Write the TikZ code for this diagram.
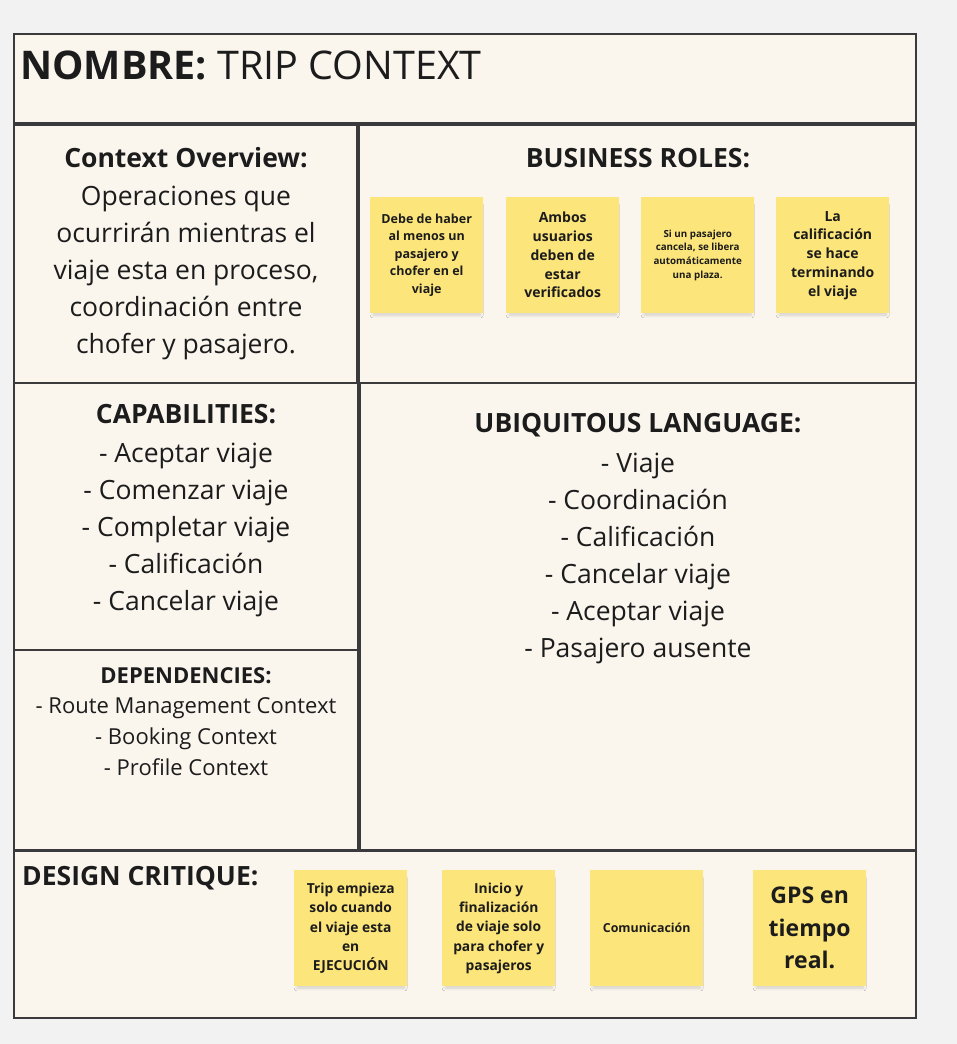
\documentclass[tikz,border=0pt]{standalone}
\usepackage{fontspec}
\setmainfont{Open Sans}
\usetikzlibrary{shadows.blur}
\definecolor{pagebg}{RGB}{242,242,242}
\definecolor{panel}{RGB}{250,246,238}
\definecolor{frame}{RGB}{58,58,60}
\definecolor{sticky}{RGB}{252,229,122}
\definecolor{ink}{RGB}{28,28,28}

\begin{document}
\begin{tikzpicture}[x=1pt,y=-1pt,
  panelbox/.style={draw=frame,line width=2pt,fill=panel},
  note/.style={fill=sticky,minimum width=113pt,minimum height=116pt,
    anchor=north west,inner sep=0pt,align=center,text=ink,
    blur shadow={shadow xshift=0pt,shadow yshift=-5pt,shadow scale=0.95,
      shadow blur radius=3pt,shadow blur steps=6,shadow opacity=15}},
  heading/.style={text=ink,font=\fontsize{26.5}{30}\selectfont\bfseries,inner sep=0pt},
  bodytext/.style={text=ink,align=center,font=\fontsize{26.5}{37}\selectfont,inner sep=0pt}
]
% page and bounding box
\fill[pagebg] (0,0) rectangle (957,1044);
\useasboundingbox (0,0) rectangle (957,1044);

% panels of the canvas
\draw[panelbox] (14,34) rectangle (916,123);
\draw[panelbox] (14,125) rectangle (357,383);
\draw[panelbox] (359,125) rectangle (916,383);
\draw[panelbox] (14,383) rectangle (358,650);
\draw[panelbox] (14,650) rectangle (358,850);
\draw[panelbox] (360,383) rectangle (916,850);
\draw[panelbox] (14,851) rectangle (916,1018);

% title
\node[anchor=base west,inner sep=0pt,text=ink,font=\fontsize{39.5}{44}\selectfont]
  (title) at (20,79) {\textbf{NOMBRE:} TRIP CONTEXT};

% context overview
\node[heading] (ovhead) at (186,158) {Context Overview:};
\node[bodytext] (ovbody) at (186,273) {Operaciones que\\ocurrirán mientras el\\viaje esta en proceso,\\coordinación entre\\chofer y pasajero.};

% business roles
\node[heading] (rolehead) at (638,158) {BUSINESS ROLES:};
\node[note,font=\fontsize{12.5}{17.5}\selectfont\bfseries] (r1) at (370,197) {Debe de haber\\al menos un\\pasajero y\\chofer en el\\viaje};
\node[note,font=\fontsize{14}{18.75}\selectfont\bfseries] (r2) at (506,197) {Ambos\\usuarios\\deben de\\estar\\verificados};
\node[note,font=\fontsize{9.8}{13.7}\selectfont\bfseries] (r3) at (641,197) {Si un pasajero\\cancela, se libera\\automáticamente\\una plaza.};
\node[note,font=\fontsize{14}{18.75}\selectfont\bfseries] (r4) at (776,197) {La\\calificación\\se hace\\terminando\\el viaje};

% capabilities
\node[heading] (caphead) at (186,414) {CAPABILITIES:};
\node[bodytext] (capbody) at (186,530) {- Aceptar viaje\\- Comenzar viaje\\- Completar viaje\\- Calificación\\- Cancelar viaje};

% dependencies
\node[heading,font=\fontsize{22}{26}\selectfont\bfseries] (dephead) at (186,676) {DEPENDENCIES:};
\node[bodytext,font=\fontsize{22}{31}\selectfont] (depbody) at (186,737) {- Route Management Context\\- Booking Context\\- Profile Context};

% ubiquitous language
\node[heading] (ulhead) at (638,425) {UBIQUITOUS LANGUAGE:};
\node[bodytext] (ulbody) at (638,558) {- Viaje\\- Coordinación\\- Calificación\\- Cancelar viaje\\- Aceptar viaje\\- Pasajero ausente};

% design critique
\node[heading,anchor=west] (dchead) at (22,878) {DESIGN CRITIQUE:};
\node[note,font=\fontsize{13.8}{19.3}\selectfont\bfseries] (d1) at (294,870) {Trip empieza\\solo cuando\\el viaje esta\\en\\EJECUCIÓN};
\node[note,font=\fontsize{13.8}{19.3}\selectfont\bfseries] (d2) at (442,870) {Inicio y\\finalización\\de viaje solo\\para chofer y\\pasajeros};
\node[note,font=\fontsize{12.4}{15}\selectfont\bfseries] (d3) at (590,870) {Comunicación};
\node[note,font=\fontsize{23}{32.5}\selectfont\bfseries] (d4) at (753,870) {GPS en\\tiempo\\real.};
\end{tikzpicture}
\end{document}
